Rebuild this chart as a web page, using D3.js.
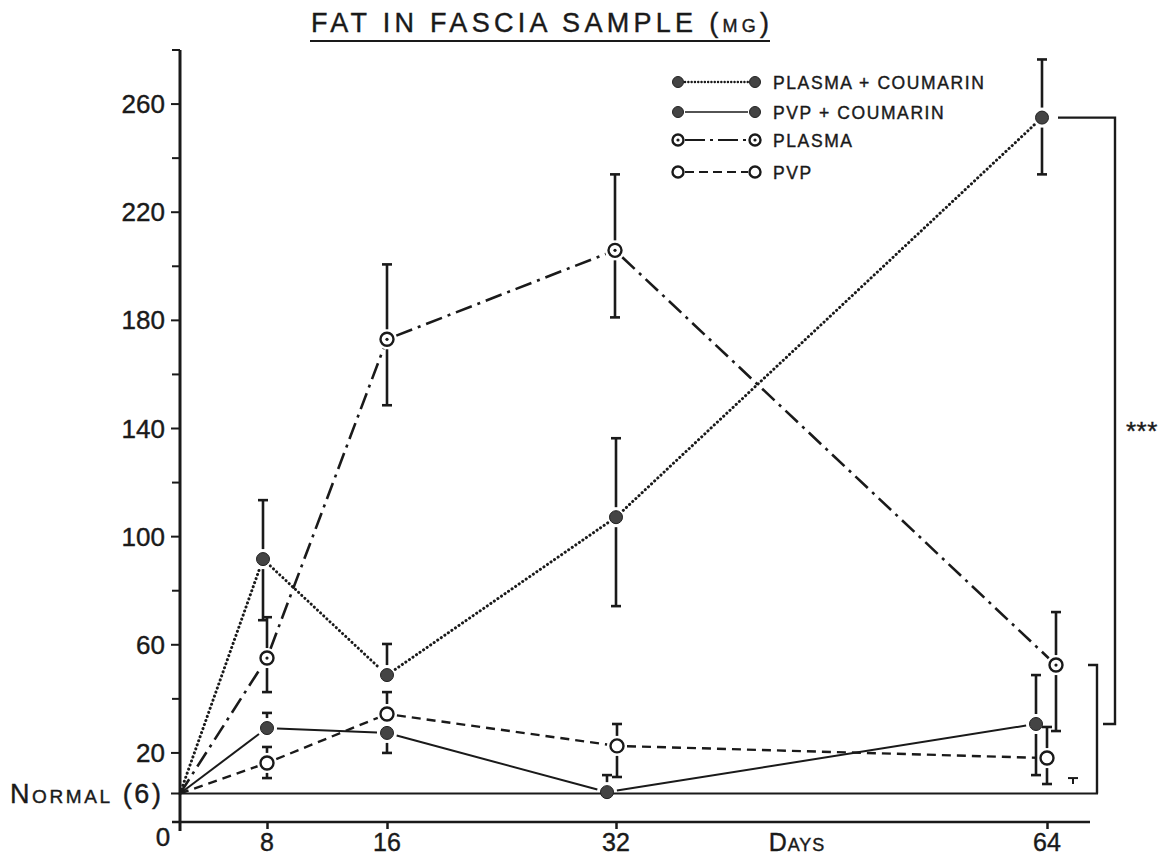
<!DOCTYPE html>
<html>
<head>
<meta charset="utf-8">
<script src="https://cdn.jsdelivr.net/npm/d3@7/dist/d3.min.js"></script>
<style>
  html, body { margin: 0; padding: 0; background: #fff; }
  svg { display: block; }
  text { font-family: "Liberation Sans", Arial, sans-serif; fill: #1a1a1a; stroke: #1a1a1a; stroke-width: 0.4px; }
</style>
</head>
<body>
<svg id="chart" width="1167" height="859"></svg>
<script>
// Fat in fascia sample (mg) after 8, 16, 32 and 64 days
const days = [8, 16, 32, 64];
const yTicks = [20, 60, 100, 140, 180, 220, 260];
const yMinorTicks = [40, 80, 120, 160, 200, 240, 280];
const normalValue = 5;           // normal level, n = 6
const normalErrHi = 10.7;

const seriesNames = ["Plasma + Coumarin", "PVP + Coumarin", "Plasma", "PVP"];

// means
const plasmaCoumarin = [91.7, 48.8, 107.2, 255];
const pvpCoumarin    = [29.2, 27.4, 5.5, 30.7];
const plasma         = [55.1, 173, 205.9, 52.5];
const pvp            = [16.3, 34.4, 22.6, 18.1];

// upper / lower ends of the error bars (null = not drawn)
const plasmaCoumarinHi = [113.5, 60.3, 136.4, 276.5];
const plasmaCoumarinLo = [69.1, null, 74.3, 234];
const pvpCoumarinHi    = [34.8, null, 11.8, 48.8];
const pvpCoumarinLo    = [null, 20, null, 11.8];
const plasmaHi         = [70.2, 200.7, 234, 72.1];
const plasmaLo         = [42.5, 148.6, 181.1, 28.1];
const pvpHi            = [22.2, 42.5, 30.7, 29.6];
const pvpLo            = [10.7, null, 11.1, 8.5];

const svg = d3.select("#chart");
const ink = "#1a1a1a";

// hand-spaced day axis
const x = d3.scaleLinear().domain([0, 8, 16, 32, 64]).range([180, 267, 387, 616, 1047]);
const y = d3.scaleLinear().domain([0, 280]).range([807, 50]);

const series = [
  { name: seriesNames[0], v: plasmaCoumarin, hi: plasmaCoumarinHi, lo: plasmaCoumarinLo,
    filled: true, dot: false, dash: "0.1 4.2", width: 3, cap: "round", nudge: [-4, 0, 0, -5] },
  { name: seriesNames[1], v: pvpCoumarin, hi: pvpCoumarinHi, lo: pvpCoumarinLo,
    filled: true, dot: false, dash: null, width: 2, cap: "butt", nudge: [0, 0, -9, -11] },
  { name: seriesNames[2], v: plasma, hi: plasmaHi, lo: plasmaLo,
    filled: false, dot: true, dash: "17 6 3 6", width: 2.6, cap: "butt", nudge: [0, 0, -1, 9] },
  { name: seriesNames[3], v: pvp, hi: pvpHi, lo: pvpLo,
    filled: false, dot: false, dash: "9 6", width: 2.4, cap: "butt", nudge: [0, 0, 1, 0] }
];

// ---- title ----
const title = svg.append("text").attr("x", 311).attr("y", 32)
  .attr("textLength", 458).attr("lengthAdjust", "spacing")
  .style("font-size", "27px");
title.append("tspan").text("FAT  IN  FASCIA  SAMPLE  (");
title.append("tspan").style("font-size", "18px").text("MG");
title.append("tspan").text(")");
svg.append("line").attr("x1", 310).attr("x2", 770).attr("y1", 41).attr("y2", 41)
  .attr("stroke", ink).attr("stroke-width", 2);

// ---- y axis ----
const axisG = svg.append("g").attr("transform", `translate(${x(0)},0)`);
axisG.append("line").attr("y1", y(280)).attr("y2", 831).attr("stroke", ink).attr("stroke-width", 3);
axisG.selectAll(".maj").data(yTicks).join("line")
  .attr("x1", -9).attr("x2", 0).attr("y1", d => y(d)).attr("y2", d => y(d))
  .attr("stroke", ink).attr("stroke-width", 2);
axisG.selectAll(".min").data(yMinorTicks).join("line")
  .attr("x1", -8).attr("x2", 0).attr("y1", d => y(d)).attr("y2", d => y(d))
  .attr("stroke", ink).attr("stroke-width", 2);
axisG.selectAll(".lab").data(yTicks).join("text")
  .attr("x", -15).attr("y", d => y(d) + 9).attr("text-anchor", "end")
  .style("font-size", "26px").text(d => d);

// ---- x axis (offset below the normal line) ----
const xAxisY = 822;
const xAxis = d3.axisBottom(x).tickValues(days).tickSize(7).tickFormat("");
const xg = svg.append("g").attr("transform", `translate(0,${xAxisY})`).call(xAxis);
xg.select(".domain").attr("d", `M172,0H1090`).attr("stroke", ink).attr("stroke-width", 2.5);
xg.selectAll(".tick line").attr("stroke", ink).attr("stroke-width", 2.5);
svg.selectAll(".xlab").data(days).join("text")
  .attr("x", d => x(d)).attr("y", 851).attr("text-anchor", "middle")
  .style("font-size", "25px").text(d => d);
svg.append("text").attr("x", 163).attr("y", 846).attr("text-anchor", "middle")
  .style("font-size", "26px").text("0");
svg.append("text").attr("x", 797).attr("y", 851).attr("text-anchor", "middle")
  .style("font-size", "25px").style("font-variant", "small-caps").style("letter-spacing", "1px")
  .text("Days");

// ---- normal level ----
const yN = y(normalValue);
svg.append("line").attr("x1", x(0) - 9).attr("x2", 1098).attr("y1", yN).attr("y2", yN)
  .attr("stroke", ink).attr("stroke-width", 2.2);
svg.append("text").attr("x", 10).attr("y", yN + 10)
  .style("font-size", "27px").style("font-variant", "small-caps").style("letter-spacing", "2.6px")
  .text("Normal (6)");
// normal error mark
const nx = 1073;
svg.append("line").attr("x1", nx).attr("x2", nx).attr("y1", y(normalErrHi)).attr("y2", y(normalErrHi) + 6)
  .attr("stroke", ink).attr("stroke-width", 2);
svg.append("line").attr("x1", nx - 5).attr("x2", nx + 5).attr("y1", y(normalErrHi)).attr("y2", y(normalErrHi))
  .attr("stroke", ink).attr("stroke-width", 2);

// ---- lines (broken near markers) ----
function shortened(a, b, ga, gb) {
  const dx = b[0] - a[0], dy = b[1] - a[1];
  const L = Math.hypot(dx, dy);
  return [[a[0] + dx * ga / L, a[1] + dy * ga / L], [b[0] - dx * gb / L, b[1] - dy * gb / L]];
}
const line = d3.line();
series.forEach(s => {
  const pts = [[x(0), yN]].concat(s.v.map((v, i) => [x(days[i]) + s.nudge[i], y(v)]));
  for (let i = 0; i < pts.length - 1; i++) {
    const seg = shortened(pts[i], pts[i + 1], i === 0 ? 0 : 10, 10);
    svg.append("path").attr("d", line(seg)).attr("fill", "none")
      .attr("stroke", ink).attr("stroke-width", s.width)
      .attr("stroke-linecap", s.cap)
      .attr("stroke-dasharray", s.dash);
  }
});

// ---- error bars ----
function errBar(cx, cy, end) {
  const dir = y(end) < cy ? -1 : 1;
  const start = cy + dir * 10;
  svg.append("line").attr("x1", cx).attr("x2", cx).attr("y1", start).attr("y2", y(end))
    .attr("stroke", ink).attr("stroke-width", 2.6);
  svg.append("line").attr("x1", cx - 5).attr("x2", cx + 5).attr("y1", y(end)).attr("y2", y(end))
    .attr("stroke", ink).attr("stroke-width", 2.6);
}
series.forEach(s => {
  s.v.forEach((v, i) => {
    const cx = x(days[i]) + s.nudge[i], cy = y(v);
    if (s.hi[i] != null) errBar(cx, cy, s.hi[i]);
    if (s.lo[i] != null) errBar(cx, cy, s.lo[i]);
  });
});

// ---- markers ----
function marker(g, cx, cy, s, r) {
  if (s.filled) {
    g.append("circle").attr("cx", cx).attr("cy", cy).attr("r", r).attr("fill", "#444")
      .attr("stroke", "#222").attr("stroke-width", 1);
  } else {
    g.append("circle").attr("cx", cx).attr("cy", cy).attr("r", r).attr("fill", "#fff")
      .attr("stroke", ink).attr("stroke-width", 2.4);
    if (s.dot) g.append("circle").attr("cx", cx).attr("cy", cy).attr("r", 1.6).attr("fill", ink);
  }
}
series.forEach(s => {
  s.v.forEach((v, i) => marker(svg, x(days[i]) + s.nudge[i], y(v), s, 6.5));
});

// ---- significance brackets ----
const bx = 1115;
svg.append("path")
  .attr("d", `M${x(64) + 11},${y(plasmaCoumarin[3])}H${bx}V${y(pvpCoumarin[3])}H${bx - 12}`)
  .attr("fill", "none").attr("stroke", ink).attr("stroke-width", 2.4);
svg.append("text").attr("x", 1126).attr("y", 440)
  .style("font-size", "26px").style("letter-spacing", "0.5px").text("***");
const sx = 1097;
svg.append("path")
  .attr("d", `M${sx - 9},${y(plasma[3])}H${sx}V${yN}`)
  .attr("fill", "none").attr("stroke", ink).attr("stroke-width", 2.4);

// ---- legend ----
const legY = [82, 112, 140, 172];
const lx1 = 678, lx2 = 755;
const leg = svg.append("g");
series.forEach((s, i) => {
  leg.append("line").attr("x1", lx1 + 7).attr("x2", lx2 - 7).attr("y1", legY[i]).attr("y2", legY[i])
    .attr("stroke", ink).attr("stroke-width", s.filled ? (s.dash ? 2.4 : 1.6) : 2.2)
    .attr("stroke-linecap", s.cap)
    .attr("stroke-dasharray", s.dash ? (i === 0 ? "0.1 3.2" : (i === 2 ? "20 5 3 5" : "9 5")) : null);
  marker(leg, lx1, legY[i], s, 5.5);
  marker(leg, lx2, legY[i], s, 5.5);
  leg.append("text").attr("x", 773).attr("y", legY[i] + 6.5)
    .style("font-size", "17.5px").style("letter-spacing", "1.6px")
    .text(s.name.toUpperCase());
});
</script>
</body>
</html>
